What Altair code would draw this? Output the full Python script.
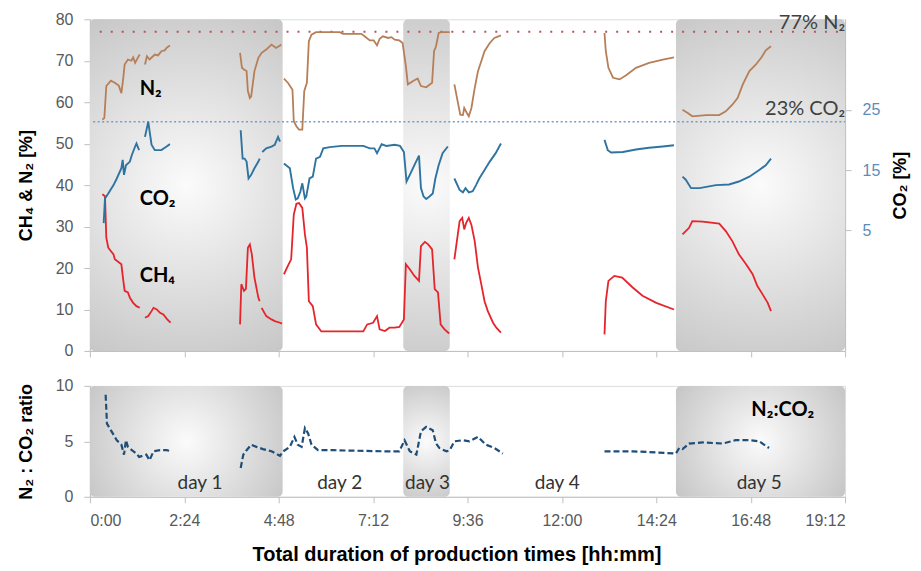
import altair as alt
import pandas as pd

# ---------------- data (time in minutes, values in %) ----------------
N2_T = [
    [19, 22, 25, 32, 38, 44, 48, 51, 53, 58, 63, 66, 69, 73, 76],
    [84, 87, 91, 95, 99, 104, 109, 114, 117, 122],
    [229, 232, 235, 239, 241, 244, 246, 251, 257, 262, 269, 277, 284, 290, 292],
    [296, 302, 309, 311, 315, 319, 324, 327, 331, 334, 338, 345, 381, 386, 414, 419, 427, 433,
     438, 442, 447, 455, 460, 465, 472, 477, 482, 485, 493, 500, 505, 513, 522, 525, 528, 532, 536, 549],
    [556, 561, 565, 569, 571, 575, 578, 582, 587, 592, 597, 602, 610, 617, 627],
    [785, 787, 791, 798, 808, 818, 833, 853, 874, 891],
    [904, 912, 919, 940, 960, 970, 980, 988, 996, 1006, 1016, 1024, 1031, 1039],
]
N2_V = [
    [55.8, 56.2, 63.9, 65.2, 64.7, 64.0, 62.2, 66.0, 69.1, 70.3, 70.0, 70.8, 69.5, 70.7, 71.5],
    [69.1, 71.1, 70.3, 70.9, 71.5, 71.3, 72.3, 72.5, 73.1, 73.7],
    [71.9, 68.3, 67.9, 67.5, 62.7, 61.0, 61.4, 67.5, 70.7, 71.9, 72.7, 73.9, 73.1, 73.7, 73.9],
    [65.7, 64.7, 63.0, 55.4, 54.2, 53.4, 53.4, 62.7, 64.7, 74.7, 76.3, 76.9, 76.9, 76.5, 76.5, 75.9, 74.9, 74.9,
     73.7, 75.3, 75.9, 75.5, 75.7, 75.1, 74.9, 74.3, 68.7, 64.3, 65.1, 65.7, 63.9, 63.6, 64.7, 72.3, 73.5, 76.7, 76.9, 76.9],
    [64.3, 60.2, 57.0, 56.9, 58.6, 57.4, 56.6, 58.6, 63.4, 67.5, 69.9, 72.3, 74.3, 75.5, 76.1],
    [76.7, 72.3, 68.3, 65.9, 65.5, 66.5, 68.3, 69.5, 70.3, 70.8],
    [58.2, 57.4, 56.6, 56.9, 56.9, 57.8, 59.4, 61.0, 64.3, 67.5, 69.1, 70.7, 72.5, 73.5],
]

CO2_T = [
    [21, 23, 28, 36, 41, 48, 50, 52, 55, 61, 64, 69, 71, 75],
    [84, 89, 94, 99, 109, 117, 122],
    [230, 233, 236, 239, 242, 246, 251, 257, 259],
    [263, 269, 277, 282, 287, 290],
    [296, 305, 310, 314, 317, 321, 324, 328, 330, 335, 340, 345, 351, 356, 366, 384, 417, 427, 434,
     438, 445, 452, 465, 473, 479, 483, 488, 495, 502, 505, 509, 513, 518, 523, 527, 532, 538, 546],
    [556, 564, 569, 573, 578, 584, 589, 594, 602, 610, 619, 627],
    [785, 790, 795, 813, 833, 853, 874, 891],
    [904, 909, 917, 930, 955, 975, 990, 1006, 1021, 1031, 1039],
]
CO2_V = [
    [6.2, 10.3, 11.1, 12.5, 13.6, 15.3, 16.7, 14.2, 15.8, 16.4, 17.5, 18.9, 19.4, 18.3],
    [20.5, 23.0, 19.2, 18.3, 18.3, 18.9, 19.3],
    [21.6, 16.9, 16.9, 16.4, 13.6, 14.2, 15.3, 16.4, 16.9],
    [18.0, 18.6, 18.9, 19.2, 20.5, 19.7],
    [16.1, 15.3, 12.0, 10.1, 10.3, 11.4, 12.8, 10.3, 10.6, 13.6, 13.9, 16.9, 17.2, 18.6, 18.8, 19.0, 19.0, 18.6, 18.6,
     17.8, 19.3, 19.0, 19.2, 19.0, 18.0, 13.1, 14.2, 15.8, 17.4, 12.0, 10.6, 10.2, 10.6, 11.1, 13.6, 15.8, 17.8, 18.9],
    [13.6, 11.7, 11.3, 12.0, 11.3, 11.5, 12.5, 13.6, 15.0, 16.4, 17.8, 19.4],
    [20.0, 18.3, 17.9, 18.0, 18.4, 18.7, 18.9, 19.1],
    [13.9, 13.4, 12.0, 12.0, 12.5, 12.6, 13.1, 13.9, 15.0, 15.8, 16.9],
]

CH4_T = [
    [19, 23, 25, 28, 36, 38, 48, 51, 53, 58, 61, 66, 71, 76],
    [84, 89, 94, 97, 102, 107, 112, 118, 123],
    [229, 231, 235, 238, 241, 244, 247, 251, 257, 259],
    [262, 269, 277, 282, 290, 293],
    [296, 302, 307, 311, 315, 319, 324, 328, 331, 334, 340, 345, 353, 417, 423, 432, 438, 442,
     450, 457, 465, 472, 479, 482, 488, 495, 502, 505, 511, 516, 522, 526, 531, 535, 541, 548],
    [556, 564, 568, 571, 574, 578, 582, 587, 592, 597, 602, 607, 615, 620, 627],
    [785, 787, 791, 800, 812, 828, 843, 864, 891],
    [904, 909, 914, 919, 935, 960, 970, 980, 990, 1001, 1011, 1018, 1026, 1034, 1039],
]
CH4_V = [
    [37.8, 37.3, 27.3, 24.9, 23.3, 22.1, 20.9, 16.9, 14.5, 14.1, 12.8, 11.6, 10.8, 10.4],
    [8.0, 8.4, 9.6, 10.4, 10.0, 9.2, 8.8, 7.6, 6.8],
    [6.4, 16.1, 14.5, 15.0, 24.9, 25.7, 23.3, 17.7, 12.8, 12.0],
    [10.4, 8.4, 7.6, 7.2, 6.8, 6.6],
    [18.5, 20.5, 22.1, 32.9, 35.5, 35.7, 34.5, 28.1, 24.9, 12.0, 10.8, 6.4, 4.7, 4.7, 6.4, 6.8, 8.4, 5.2,
     4.8, 5.6, 5.6, 5.8, 7.6, 20.9, 19.7, 18.1, 16.9, 25.3, 26.3, 25.7, 24.5, 14.9, 14.1, 6.4, 5.2, 4.2],
    [22.1, 31.3, 32.1, 29.3, 30.9, 32.1, 30.4, 26.5, 20.1, 16.1, 12.0, 9.6, 6.8, 5.6, 4.4],
    [4.0, 12.0, 16.9, 18.1, 17.7, 15.3, 13.3, 11.6, 10.0],
    [28.1, 28.9, 29.7, 31.3, 31.2, 30.7, 28.9, 26.5, 23.3, 20.9, 18.5, 15.7, 13.7, 11.6, 9.6],
]

RATIO_T = [
    [24, 26, 33, 41, 48, 52, 55, 58, 64, 71, 75, 86, 91, 97, 107, 117, 124],
    [230, 234, 239, 246, 254, 264, 277, 290, 295, 305, 312, 317, 323, 328, 333, 338, 348, 371, 447,
     472, 480, 488, 498, 505, 513, 523, 528, 533, 544, 549, 556, 569, 579, 592, 604, 617, 630],
    [785, 828, 864, 894, 899, 904, 914, 935, 965, 985, 1006, 1021, 1036],
]
RATIO_V = [
    [9.2, 6.6, 5.9, 5.1, 4.7, 3.8, 5.1, 4.5, 4.2, 3.9, 3.6, 3.8, 3.3, 4.1, 4.2, 4.2, 4.1],
    [2.6, 3.8, 4.2, 4.7, 4.5, 4.3, 4.1, 3.7, 4.1, 4.5, 5.4, 4.7, 4.5, 6.2, 5.7, 4.7, 4.2, 4.2, 4.1,
     4.1, 5.1, 4.1, 3.8, 5.9, 6.3, 6.0, 4.8, 4.4, 4.1, 4.2, 5.0, 5.1, 5.0, 5.4, 4.7, 4.4, 3.9],
    [4.1, 4.1, 4.0, 3.9, 4.4, 4.3, 4.8, 4.9, 4.8, 5.1, 5.1, 5.0, 4.4],
]

SHADE_START = [0, 478, 894]
SHADE_END = [294, 549, 1152]

REF_N2 = 77
REF_CO2 = 23

DAY_LABELS = ["day 1", "day 2", "day 3", "day 4", "day 5"]
DAY_T = [168, 381, 515, 713, 1021]

X_TICKS = [0, 144, 288, 432, 576, 720, 864, 1008, 1152]

# ---------------- helpers ----------------
def long_df(name, ts, vs):
    rows = []
    for i, (tt, vv) in enumerate(zip(ts, vs)):
        for a, b in zip(tt, vv):
            rows.append({"gas": name, "seg": f"{name}_{i}", "t": a, "v": b})
    return rows

left_df = pd.DataFrame(long_df("N2", N2_T, N2_V) + long_df("CH4", CH4_T, CH4_V))
co2_df = pd.DataFrame(long_df("CO2", CO2_T, CO2_V))
ratio_df = pd.DataFrame(long_df("R", RATIO_T, RATIO_V))
shade_df = pd.DataFrame({"t": SHADE_START, "t2": SHADE_END})
ref_n2_df = pd.DataFrame({"t": [15, 1152], "v": [REF_N2, REF_N2]})
ref_co2_df = pd.DataFrame({"t": [5, 1152], "v": [REF_CO2, REF_CO2]})

FONT = "Lato"
W, H1, H2 = 756, 332, 111
AX = "#bfbfbf"
LBL = "#595959"

GRAD = {
    "gradient": "radial",
    "x1": 0.5, "y1": 0.5, "r1": 0,
    "x2": 0.5, "y2": 0.5, "r2": 0.72,
    "stops": [{"offset": 0, "color": "#fbfbfb"}, {"offset": 1, "color": "#bababa"}],
}

xscale = alt.Scale(domain=[0, 1152], nice=False, zero=False)
label_expr = ("floor(datum.value/60) + ':' + (datum.value % 60 < 10 ? '0' : '') + (datum.value % 60)")

x_top = alt.X("t:Q", scale=xscale, axis=alt.Axis(
    values=X_TICKS, labels=False, title=None, grid=False, tickSize=6,
    domainColor=AX, tickColor=AX))
x_bot = alt.X("t:Q", scale=xscale, axis=alt.Axis(
    values=X_TICKS, labelExpr=label_expr, title="Total duration of production times [hh:mm]",
    grid=False, tickSize=6, domainColor=AX, tickColor=AX, labelColor=LBL, labelFontSize=16,
    labelPadding=10, titleFontSize=20, titleFontWeight="bold", titleColor="black",
    titlePadding=16, titleX=367))

y_left = alt.Y("v:Q", scale=alt.Scale(domain=[0, 80], nice=False), axis=alt.Axis(
    values=list(range(0, 81, 10)), title="CH₄ & N₂ [%]", grid=False, tickSize=6,
    labelPadding=11, titlePadding=20, domainColor=AX, tickColor=AX, labelColor=LBL,
    labelFontSize=16, titleFontSize=18, titleFontWeight="bold", titleColor="black"))
y_right = alt.Y("v:Q", scale=alt.Scale(domain=[-15, 40], nice=False, zero=False), axis=alt.Axis(
    orient="right", values=[5, 15, 25], title="CO₂ [%]", grid=False, tickSize=6,
    labelPadding=11, titlePadding=12, domainColor=AX, tickColor=AX, labelColor="#5b8db8",
    labelFontSize=16, titleFontSize=18, titleFontWeight="bold", titleColor="black",
    titleAngle=270, titleBaseline="top"))
y_bot = alt.Y("v:Q", scale=alt.Scale(domain=[0, 10], nice=False), axis=alt.Axis(
    values=[0, 5, 10], title="N₂ : CO₂ ratio", grid=False, tickSize=6,
    labelPadding=11, titlePadding=20, domainColor=AX, tickColor=AX, labelColor=LBL,
    labelFontSize=16, titleFontSize=18, titleFontWeight="bold", titleColor="black"))

# ---------------- top panel ----------------
shade_top = alt.Chart(shade_df).mark_rect(fill=GRAD, cornerRadius=5).encode(
    x=x_top, x2="t2:Q", y=alt.value(0), y2=alt.value(H1))

ref_n2 = alt.Chart(ref_n2_df).mark_line(color="#b9535a", strokeWidth=1.8, strokeDash=[2, 9]).encode(
    x=x_top, y=y_left)

left_lines = alt.Chart(left_df).mark_line(strokeWidth=1.8).encode(
    x=x_top, y=y_left,
    color=alt.Color("gas:N", scale=alt.Scale(domain=["N2", "CH4"], range=["#b67f58", "#e5242b"]), legend=None),
    detail="seg:N")

gas_lbl_df = pd.DataFrame({"t": [76, 76, 76], "v": [63.1, 36.6, 18.1], "label": ["N₂", "CO₂", "CH₄"]})
gas_lbl = alt.Chart(gas_lbl_df).mark_text(align="left", baseline="middle", font=FONT, fontSize=20,
                                          fontWeight="bold", color="black").encode(
    x=x_top, y=y_left, text="label:N")

ref_lbl_df = pd.DataFrame({"t": [1152, 1152], "v": [79.0, 58.3], "label": ["77% N₂", "23% CO₂"]})
ref_lbl = alt.Chart(ref_lbl_df).mark_text(align="right", baseline="middle", font=FONT, fontSize=20,
                                          color="#404040").encode(
    x=x_top, y=y_left, text="label:N")

ref_co2 = alt.Chart(ref_co2_df).mark_line(color="#6f9fcc", strokeWidth=1.6, strokeDash=[2, 2.5]).encode(
    x=x_top, y=y_right)
co2_lines = alt.Chart(co2_df).mark_line(strokeWidth=1.9, color="#2f74a0").encode(
    x=x_top, y=y_right, detail="seg:N")

left_group = alt.layer(shade_top, ref_n2, left_lines, gas_lbl, ref_lbl)
right_group = alt.layer(ref_co2, co2_lines)
top = alt.layer(left_group, right_group).resolve_scale(y="independent").properties(width=W, height=H1)

# ---------------- bottom panel ----------------
shade_bot = alt.Chart(shade_df).mark_rect(fill=GRAD, cornerRadius=5).encode(
    x=x_bot, x2="t2:Q", y=alt.value(0), y2=alt.value(H2))
ratio_line = alt.Chart(ratio_df).mark_line(strokeWidth=2.2, color="#1f4e79", strokeDash=[6, 3]).encode(
    x=x_bot, y=y_bot, detail="seg:N")
day_df = pd.DataFrame({"t": DAY_T, "v": [1.25] * 5, "label": DAY_LABELS})
day_lbl = alt.Chart(day_df).mark_text(align="center", baseline="middle", font=FONT, fontSize=19,
                                      color="#333333").encode(x=x_bot, y=y_bot, text="label:N")
ratio_lbl_df = pd.DataFrame({"t": [1009], "v": [7.8], "label": ["N₂:CO₂"]})
ratio_lbl = alt.Chart(ratio_lbl_df).mark_text(align="left", baseline="middle", font=FONT, fontSize=20,
                                              fontWeight="bold", color="black").encode(
    x=x_bot, y=y_bot, text="label:N")

bottom = alt.layer(shade_bot, ratio_line, day_lbl, ratio_lbl).properties(width=W, height=H2)

chart = alt.vconcat(top, bottom, spacing=17).properties(
    padding={"left": 8, "top": 2, "right": 2, "bottom": 2}
).configure_view(stroke=None).configure_axis(
    labelFont=FONT, titleFont=FONT
).configure(background="white")

chart.save("out.html", embed_options={"renderer": "svg", "actions": False})
